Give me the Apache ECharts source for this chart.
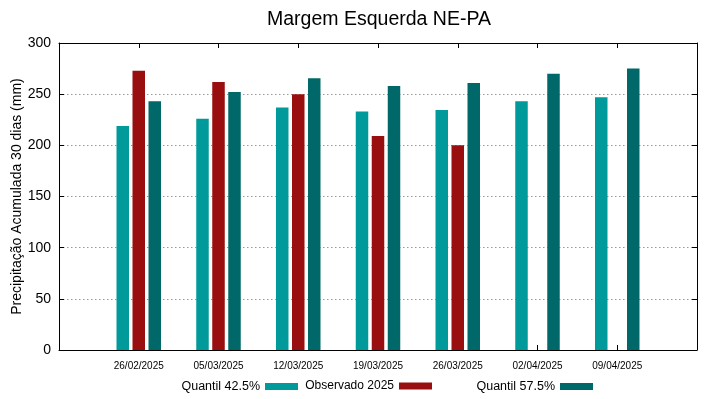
<!DOCTYPE html>
<html>
<head>
<meta charset="utf-8">
<script src="https://cdn.jsdelivr.net/npm/echarts@6/dist/echarts.min.js"></script>
<style>html,body{margin:0;padding:0;background:#fff}#c{width:719px;height:399px}</style>
</head>
<body>
<div id="c"></div>
<script>
const categories = ["26/02/2025","05/03/2025","12/03/2025","19/03/2025","26/03/2025","02/04/2025","09/04/2025"];
const q425 = [219, 226, 237, 233, 234.5, 243, 247];
const observado = [273, 262, 250, 209, 200, null, null];
const q575 = [243, 252, 265.5, 258, 261, 270, 275];
const yTicks = [0, 50, 100, 150, 200, 250, 300];

const FONT = "'Liberation Sans',Arial,sans-serif";
const pad = a => [null].concat(a, [null]);
const cats = [""].concat(categories, [""]);

const chart = echarts.init(document.getElementById('c'), null, {renderer: 'canvas'});
const legendBase = {
  orient: 'horizontal', align: 'right', itemWidth: 33, itemHeight: 7,
  icon: 'rect', top: 380, padding: 0,
  textStyle: {fontFamily: FONT, fontSize: 12.5, color: '#000'}, selectedMode: false
};
chart.setOption({
  animation: false,
  title: {
    text: 'Margem Esquerda NE-PA', left: 374, textAlign: 'center', top: 5,
    textStyle: {fontFamily: FONT, fontSize: 19.5, fontWeight: 'normal', color: '#000'}
  },
  legend: [
    Object.assign({}, legendBase, {right: 421, data: ['Quantil 42.5%']}),
    Object.assign({}, legendBase, {right: 287, data: ['Observado 2025'],
      textStyle: {fontFamily: FONT, fontSize: 12, color: '#000'}}),
    Object.assign({}, legendBase, {right: 126, data: ['Quantil 57.5%']})
  ],
  grid: {left: 59, right: 22, top: 43, bottom: 49, containLabel: false, outerBoundsMode: 'none'},
  xAxis: [{
    type: 'category', data: cats, boundaryGap: false,
    axisLine: {onZero: false, lineStyle: {color: '#000', width: 1}},
    axisTick: {inside: true, length: 5, lineStyle: {color: '#000'}},
    axisLabel: {fontFamily: FONT, fontSize: 10, color: '#000', margin: 11, interval: 0},
    splitLine: {show: false}
  }, {
    type: 'category', data: cats, boundaryGap: false, position: 'top',
    axisLine: {onZero: false, lineStyle: {color: '#000', width: 1}},
    axisTick: {inside: true, length: 5, lineStyle: {color: '#000'}},
    axisLabel: {show: false}, splitLine: {show: false}
  }],
  yAxis: [{
    type: 'value', min: 0, max: 300, interval: 50,
    name: 'Precipitação Acumulada 30 dias (mm)', nameLocation: 'middle', nameGap: 35,
    nameMoveOverlap: false,
    nameTextStyle: {fontFamily: FONT, fontSize: 14, color: '#000'},
    axisLine: {show: true, lineStyle: {color: '#000', width: 1}},
    axisTick: {show: true, inside: true, length: 5, lineStyle: {color: '#000'}},
    axisLabel: {fontFamily: FONT, fontSize: 14, color: '#000', margin: 8,
      formatter: v => yTicks.includes(v) ? String(v) : ''},
    splitLine: {show: true, lineStyle: {color: '#999', type: [1.5, 2.5], width: 1}}
  }, {
    type: 'value', min: 0, max: 300, interval: 50, position: 'right',
    axisLine: {show: true, lineStyle: {color: '#000', width: 1}},
    axisTick: {show: true, inside: true, length: 5, lineStyle: {color: '#000'}},
    axisLabel: {show: false}, splitLine: {show: false}
  }],
  series: [
    {name: 'Quantil 42.5%', type: 'bar', data: pad(q425), barWidth: 12.5, barGap: '28%',
      itemStyle: {color: '#009a9a'}},
    {name: 'Observado 2025', type: 'bar', data: pad(observado), barWidth: 12.5, barGap: '28%',
      itemStyle: {color: '#990e0e'}},
    {name: 'Quantil 57.5%', type: 'bar', data: pad(q575), barWidth: 12.5, barGap: '28%',
      itemStyle: {color: '#006868'}}
  ]
});
</script>
</body>
</html>
